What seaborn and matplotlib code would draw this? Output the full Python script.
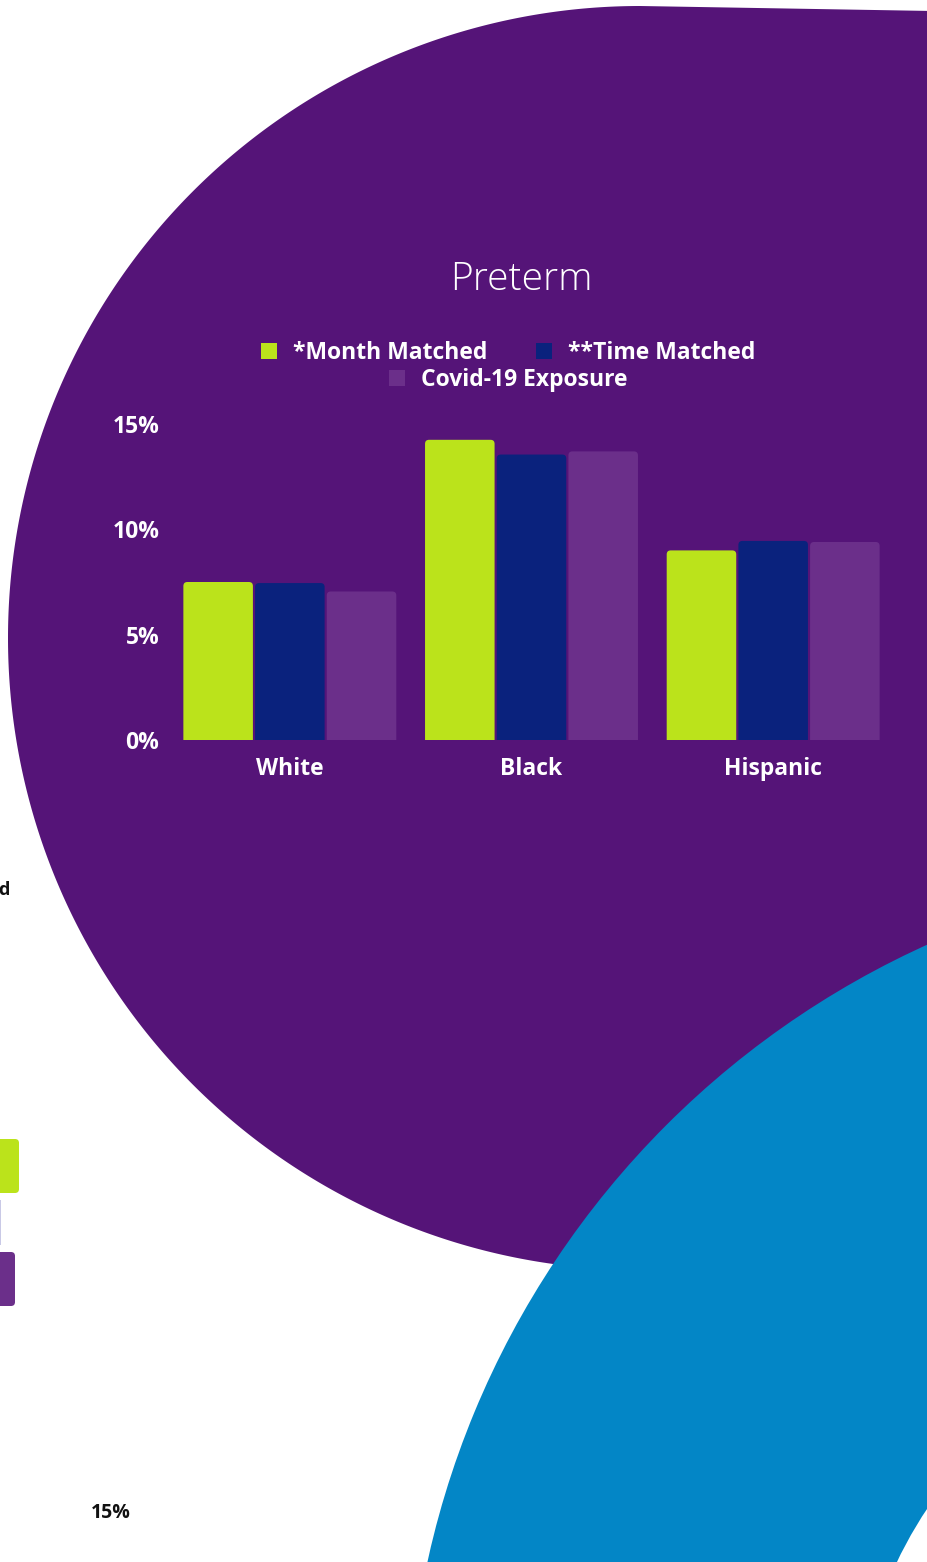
import numpy as np
import pandas as pd
import seaborn as sns
import matplotlib.pyplot as plt
from matplotlib.patches import Wedge, Polygon, FancyBboxPatch, Rectangle

# ---- data -------------------------------------------------------------
groups = ["White", "Black", "Hispanic"]
series = ["*Month Matched", "**Time Matched", "Covid-19 Exposure"]
month_matched = [7.5, 14.25, 9.0]
time_matched = [7.45, 13.55, 9.45]
covid_exposure = [7.05, 13.7, 9.4]
y_ticks = [0, 5, 10, 15]
y_tick_labels = ["0%", "5%", "10%", "15%"]
title = "Preterm"

colors = ["#BBE31B", "#0A227D", "#6B2F8A"]
PURPLE = "#551478"
BLUE = "#0386C6"

df = pd.DataFrame({
    "group": groups * 3,
    "series": [series[0]] * 3 + [series[1]] * 3 + [series[2]] * 3,
    "value": month_matched + time_matched + covid_exposure,
})

sns.set_style("white")
plt.rcParams["font.family"] = ["Open Sans", "DejaVu Sans"]

W, H = 928, 1562
fig = plt.figure(figsize=(W / 100, H / 100), dpi=100)
fig.patch.set_facecolor("white")

# ---- decorative backdrop (pixel coordinates, y pointing down) ---------
bg = fig.add_axes([0, 0, 1, 1], zorder=0)
bg.set_xlim(0, W)
bg.set_ylim(H, 0)
bg.axis("off")

# purple disc with a flat shoulder running off to the top-right corner
cx, cy, rad = 640, 638, 632
theta = np.linspace(np.pi / 2, 3 * np.pi / 2 + 0.15, 500)  # top -> left -> bottom
arc = np.column_stack([cx + rad * np.cos(theta), cy - rad * np.sin(theta)])
blob = np.vstack([[[W + 5, 11], [cx, cy - rad]], arc, [[W + 5, 1100]]])
bg.add_patch(Polygon(blob, closed=True, fc=PURPLE, ec="none"))

# blue ring in the lower right
bg.add_patch(Wedge((1292, 1751), 885, 0, 360, width=447, fc=BLUE, ec="none"))

# fragments of a neighbouring panel at the left edge
bg.add_patch(FancyBboxPatch((-20, 1139), 39, 54, boxstyle="round,pad=0,rounding_size=4",
                            fc=colors[0], ec="none"))
bg.add_patch(Rectangle((0, 1200), 1.5, 45, fc="#C9C9E6", ec="none"))
bg.add_patch(FancyBboxPatch((-20, 1252), 35, 54, boxstyle="round,pad=0,rounding_size=4",
                            fc=colors[2], ec="none"))
bg.text(10, 890, "d", ha="right", va="center", fontsize=13, fontweight="bold", color="#111111")
bg.text(111, 1513, "15%", ha="center", va="center", fontsize=14, fontweight="bold",
        color="#111111")

# ---- bar chart --------------------------------------------------------
ax = fig.add_axes([169 / W, 1 - 740 / H, 725 / W, 316 / H], zorder=2)
ax.set_facecolor("none")
sns.barplot(data=df, x="group", y="value", hue="series", palette=colors,
            saturation=1, width=0.89, gap=0.03, linewidth=0, legend=False, ax=ax)
ax.set_ylim(0, 15)
ax.set_xlim(-0.5, 2.5)

# rounded tops on the bars
px_x = 725 / 3.0
px_y = 316 / 15.0
r_px = 4
rx = r_px / px_x
aspect = (r_px / px_y) / rx
for p in list(ax.patches):
    x, h, w = p.get_x(), p.get_height(), p.get_width()
    if h <= 0:
        continue
    fb = FancyBboxPatch((x, -0.5), w, h + 0.5,
                        boxstyle=f"round,pad=0,rounding_size={rx}",
                        mutation_aspect=aspect, fc=p.get_facecolor(), ec="none")
    ax.add_patch(fb)
    p.set_visible(False)

ax.set_yticks(y_ticks, y_tick_labels)
ax.set_xlabel("")
ax.set_ylabel("")
for s in ax.spines.values():
    s.set_visible(False)
ax.grid(False)
ax.tick_params(axis="both", length=0, colors="white", labelsize=16.5)
ax.tick_params(axis="y", pad=7)
ax.tick_params(axis="x", pad=12)
for lab in ax.get_xticklabels() + ax.get_yticklabels():
    lab.set_fontweight("bold")

# title and legend
fig.text(521 / W, 1 - 280 / H, title, ha="center", va="center", fontsize=28,
         fontweight="light", color="white")

handles = [Rectangle((0, 0), 1, 1, fc=c, ec="none") for c in colors]
legend_kw = dict(frameon=False, loc="center", handlelength=0.7, handleheight=0.7,
                 handletextpad=0.7, columnspacing=2.1, labelcolor="white", borderpad=0,
                 prop={"weight": "bold", "size": 16.5})
fig.legend(handles[:2], series[:2], ncol=2, bbox_to_anchor=(508 / W, 1 - 353 / H), **legend_kw)
fig.legend(handles[2:], series[2:], ncol=1, bbox_to_anchor=(508 / W, 1 - 380 / H), **legend_kw)

fig.savefig("out.png", dpi=100, facecolor="white")
